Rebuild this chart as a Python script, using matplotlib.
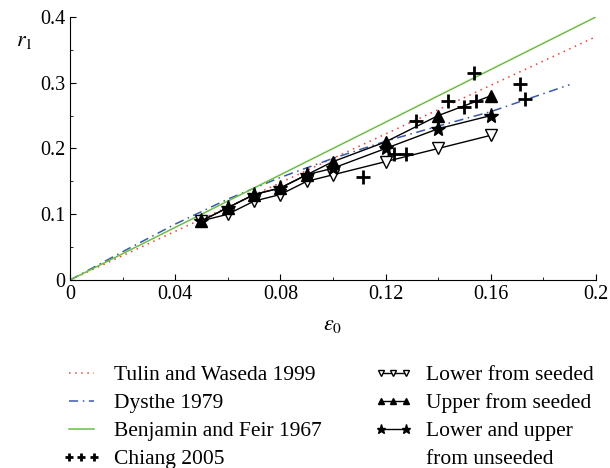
import matplotlib
matplotlib.use("Agg")
import matplotlib.pyplot as plt
from matplotlib.lines import Line2D
from matplotlib.legend_handler import HandlerLine2D
from matplotlib.ticker import MultipleLocator, FuncFormatter

plt.rcParams['font.family'] = ['Liberation Serif', 'DejaVu Serif']
plt.rcParams['mathtext.fontset'] = 'stix'

# theory curves
tulin_x = [0, 0.2]
tulin_y = [0, 0.37]
dysthe_x = [0, 0.02, 0.04, 0.06, 0.08, 0.10, 0.12, 0.14, 0.16, 0.19]
dysthe_y = [0, 0.043, 0.085, 0.123, 0.156, 0.185, 0.211, 0.234, 0.256, 0.297]
bf_x = [0, 0.2]
bf_y = [0, 0.4]

# Chiang 2005 measurements
chiang_x = [0.1116, 0.1234, 0.1279, 0.1317, 0.1439, 0.150, 0.1545, 0.1538, 0.1712, 0.173]
chiang_y = [0.157, 0.191, 0.191, 0.242, 0.272, 0.263, 0.272, 0.315, 0.298, 0.276]

# simulations
eps = [0.05, 0.06, 0.07, 0.08, 0.09, 0.10, 0.12, 0.14, 0.16]
lower_seeded = [0.09, 0.10, 0.12, 0.13, 0.15, 0.16, 0.18, 0.20, 0.22]
upper_seeded = [0.09, 0.11, 0.13, 0.14, 0.16, 0.18, 0.21, 0.25, 0.28]
unseeded = [0.09, 0.11, 0.13, 0.14, 0.16, 0.17, 0.20, 0.23, 0.25]

fig = plt.figure(figsize=(6.1, 4.68), dpi=100)
ax = fig.add_axes([0.1148, 0.4017, 0.862, 0.562])

l_tulin, = ax.plot(tulin_x, tulin_y, color='#f03c3c', ls=(0, (1, 3)), lw=1.1)
l_dys, = ax.plot(dysthe_x, dysthe_y, color='#3a5aa8', ls=(0, (6, 3, 1, 3)), lw=1.1)
l_bf, = ax.plot(bf_x, bf_y, color='#6cbf45', lw=1.1)
l_ch, = ax.plot(chiang_x, chiang_y, ls='none', marker='+', color='k', ms=10, mew=2)
l_lo, = ax.plot(eps, lower_seeded, color='k', lw=1, marker='v', mfc='white', mec='k', ms=8)
l_up, = ax.plot(eps, upper_seeded, color='k', lw=1, marker='^', mfc='k', ms=8)
l_un, = ax.plot(eps, unseeded, color='k', lw=1, marker='*', mfc='k', ms=11)

ax.set_xlim(0, 0.2)
ax.set_ylim(0, 0.4)
ax.spines['top'].set_visible(False)
ax.spines['right'].set_visible(False)
ax.xaxis.set_major_locator(MultipleLocator(0.04))
ax.xaxis.set_minor_locator(MultipleLocator(0.02))
ax.yaxis.set_major_locator(MultipleLocator(0.1))
ax.yaxis.set_minor_locator(MultipleLocator(0.05))
fmt = FuncFormatter(lambda v, p: '0' if abs(v) < 1e-9 else ('%g' % round(v, 3)))
ax.xaxis.set_major_formatter(fmt)
ax.yaxis.set_major_formatter(fmt)
ax.tick_params(which='both', direction='in', labelsize=14.5)
ax.tick_params(which='major', length=4)
ax.tick_params(which='minor', length=2.5)

ax.set_xlabel(r'$\varepsilon_0$', fontsize=16, labelpad=9)
ax.text(-0.087, 0.905, r'$r_1$', transform=ax.transAxes, fontsize=16,
        ha='center', va='center')

blank = Line2D([], [], ls='none')
handles = [l_tulin, l_dys, l_bf, l_ch, l_lo, l_up, l_un, blank]
labels = ['Tulin and Waseda 1999', 'Dysthe 1979', 'Benjamin and Feir 1967',
          'Chiang 2005', 'Lower from seeded', 'Upper from seeded',
          'Lower and upper', 'from unseeded']
fig.legend(handles, labels, ncol=2, loc='upper left', bbox_to_anchor=(0.088, 0.238),
           frameon=False, fontsize=15.5, numpoints=3, markerscale=0.6,
           handlelength=1.75, columnspacing=2.45, labelspacing=0.37,
           handletextpad=0.65, borderaxespad=0,
           handler_map={l_un: HandlerLine2D(numpoints=2)})

fig.savefig('out.png', dpi=100)
